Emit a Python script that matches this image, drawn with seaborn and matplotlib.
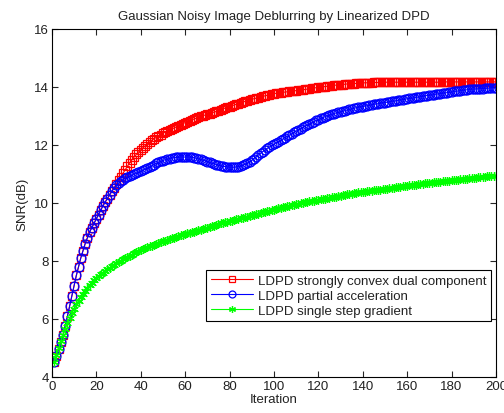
import matplotlib
matplotlib.use("Agg")
import matplotlib.pyplot as plt
import seaborn as sns
import numpy as np
import pandas as pd

# one value per iteration (1 .. 200)
iteration = np.arange(1, 201)

snr_strongly_convex = [
    4.5, 4.72, 4.95, 5.2, 5.45, 5.77, 6.1, 6.45, 6.8, 7.15,
    7.5, 7.8, 8.1, 8.35, 8.6, 8.8, 9.0, 9.15, 9.3, 9.45,
    9.6, 9.75, 9.9, 10.03, 10.15, 10.28, 10.4, 10.53, 10.65, 10.78,
    10.9, 11.02, 11.14, 11.26, 11.38, 11.48, 11.58, 11.67, 11.75, 11.83,
    11.9, 11.97, 12.04, 12.1, 12.16, 12.21, 12.26, 12.31, 12.35, 12.4,
    12.44, 12.48, 12.51, 12.55, 12.58, 12.62, 12.66, 12.7, 12.73, 12.77,
    12.8, 12.83, 12.86, 12.89, 12.92, 12.95, 12.98, 13.0, 13.03, 13.05,
    13.08, 13.1, 13.13, 13.15, 13.18, 13.21, 13.24, 13.27, 13.3, 13.32,
    13.35, 13.37, 13.4, 13.42, 13.45, 13.47, 13.5, 13.52, 13.55, 13.57,
    13.59, 13.61, 13.63, 13.65, 13.67, 13.69, 13.71, 13.73, 13.75, 13.76,
    13.78, 13.79, 13.8, 13.81, 13.82, 13.83, 13.84, 13.85, 13.86, 13.87,
    13.88, 13.89, 13.9, 13.91, 13.92, 13.93, 13.95, 13.96, 13.97, 13.98,
    13.99, 14.0, 14.01, 14.02, 14.03, 14.04, 14.05, 14.06, 14.07, 14.07,
    14.08, 14.09, 14.1, 14.1, 14.11, 14.11, 14.12, 14.12, 14.13, 14.13,
    14.14, 14.14, 14.14, 14.14, 14.15, 14.15, 14.15, 14.15, 14.15, 14.16,
    14.16, 14.16, 14.16, 14.16, 14.16, 14.16, 14.16, 14.16, 14.16, 14.16,
    14.16, 14.16, 14.16, 14.16, 14.16, 14.16, 14.16, 14.16, 14.16, 14.16,
    14.16, 14.16, 14.16, 14.16, 14.17, 14.17, 14.17, 14.17, 14.17, 14.17,
    14.17, 14.17, 14.17, 14.17, 14.17, 14.17, 14.17, 14.17, 14.17, 14.17,
    14.17, 14.17, 14.17, 14.17, 14.17, 14.17, 14.17, 14.17, 14.17, 14.17,
]

snr_partial_accel = [
    4.5, 4.72, 4.95, 5.2, 5.45, 5.77, 6.1, 6.45, 6.8, 7.15,
    7.5, 7.8, 8.1, 8.35, 8.6, 8.8, 9.0, 9.15, 9.3, 9.45,
    9.6, 9.75, 9.9, 10.03, 10.15, 10.28, 10.4, 10.5, 10.6, 10.68,
    10.75, 10.8, 10.85, 10.89, 10.92, 10.95, 10.98, 11.02, 11.05, 11.09,
    11.12, 11.16, 11.2, 11.24, 11.28, 11.32, 11.36, 11.4, 11.43, 11.46,
    11.49, 11.51, 11.53, 11.55, 11.56, 11.57, 11.57, 11.58, 11.58, 11.58,
    11.58, 11.58, 11.57, 11.56, 11.54, 11.52, 11.5, 11.48, 11.45, 11.42,
    11.4, 11.37, 11.35, 11.32, 11.3, 11.28, 11.26, 11.25, 11.24, 11.23,
    11.23, 11.23, 11.24, 11.25, 11.27, 11.3, 11.33, 11.37, 11.42, 11.47,
    11.53, 11.59, 11.65, 11.71, 11.77, 11.82, 11.88, 11.93, 11.98, 12.02,
    12.07, 12.11, 12.16, 12.2, 12.25, 12.29, 12.34, 12.38, 12.43, 12.47,
    12.52, 12.56, 12.6, 12.64, 12.68, 12.72, 12.76, 12.8, 12.84, 12.87,
    12.91, 12.94, 12.97, 13.0, 13.03, 13.05, 13.08, 13.1, 13.12, 13.14,
    13.16, 13.18, 13.2, 13.22, 13.24, 13.26, 13.28, 13.3, 13.31, 13.32,
    13.34, 13.35, 13.37, 13.38, 13.4, 13.41, 13.42, 13.44, 13.45, 13.46,
    13.47, 13.49, 13.5, 13.51, 13.52, 13.54, 13.55, 13.56, 13.57, 13.59,
    13.6, 13.61, 13.62, 13.64, 13.65, 13.66, 13.67, 13.69, 13.7, 13.71,
    13.72, 13.73, 13.75, 13.76, 13.77, 13.78, 13.79, 13.8, 13.81, 13.82,
    13.84, 13.85, 13.86, 13.87, 13.88, 13.89, 13.9, 13.91, 13.92, 13.92,
    13.93, 13.93, 13.94, 13.94, 13.95, 13.95, 13.96, 13.96, 13.96, 13.96,
]

snr_single_step = [
    4.5, 4.75, 5.0, 5.23, 5.45, 5.65, 5.85, 6.03, 6.2, 6.35,
    6.5, 6.63, 6.75, 6.87, 6.98, 7.08, 7.17, 7.25, 7.33, 7.4,
    7.47, 7.54, 7.6, 7.66, 7.72, 7.77, 7.82, 7.87, 7.92, 7.97,
    8.01, 8.06, 8.1, 8.14, 8.18, 8.22, 8.26, 8.3, 8.33, 8.37,
    8.4, 8.44, 8.47, 8.5, 8.53, 8.56, 8.59, 8.62, 8.65, 8.68,
    8.7, 8.73, 8.75, 8.78, 8.8, 8.83, 8.85, 8.88, 8.9, 8.93,
    8.95, 8.97, 8.99, 9.01, 9.03, 9.06, 9.08, 9.1, 9.12, 9.15,
    9.17, 9.2, 9.22, 9.24, 9.26, 9.29, 9.31, 9.33, 9.35, 9.37,
    9.39, 9.41, 9.43, 9.45, 9.47, 9.49, 9.51, 9.53, 9.55, 9.57,
    9.59, 9.61, 9.63, 9.65, 9.67, 9.69, 9.71, 9.73, 9.75, 9.77,
    9.79, 9.81, 9.83, 9.85, 9.86, 9.88, 9.9, 9.92, 9.94, 9.96,
    9.97, 9.99, 10.0, 10.02, 10.03, 10.05, 10.06, 10.08, 10.09, 10.11,
    10.12, 10.13, 10.14, 10.16, 10.17, 10.19, 10.2, 10.22, 10.23, 10.25,
    10.26, 10.28, 10.29, 10.3, 10.31, 10.33, 10.34, 10.36, 10.37, 10.38,
    10.39, 10.4, 10.41, 10.42, 10.43, 10.44, 10.45, 10.46, 10.47, 10.48,
    10.49, 10.5, 10.51, 10.53, 10.54, 10.55, 10.56, 10.57, 10.58, 10.59,
    10.6, 10.61, 10.62, 10.63, 10.64, 10.65, 10.66, 10.67, 10.68, 10.69,
    10.7, 10.71, 10.72, 10.73, 10.73, 10.74, 10.75, 10.76, 10.77, 10.78,
    10.79, 10.8, 10.8, 10.81, 10.82, 10.83, 10.84, 10.85, 10.85, 10.86,
    10.87, 10.88, 10.88, 10.89, 10.9, 10.91, 10.91, 10.92, 10.93, 10.94,
]

labels = ['LDPD strongly convex dual component',
          'LDPD partial acceleration',
          'LDPD single step gradient']

sns.set_style('white')
plt.rcParams['font.family'] = ['Liberation Sans', 'DejaVu Sans']
plt.rcParams['text.color'] = '#222222'

fig = plt.figure(figsize=(5.04, 4.14), dpi=100)
ax = fig.add_axes([0.103, 0.087, 0.881, 0.841])

sns.lineplot(x=iteration, y=snr_strongly_convex, ax=ax, color='red', lw=0.8,
             marker='s', markersize=6.2, markerfacecolor='none',
             markeredgecolor='red', markeredgewidth=0.9, label=labels[0])
sns.lineplot(x=iteration, y=snr_partial_accel, ax=ax, color='blue', lw=0.8,
             marker='o', markersize=6.4, markerfacecolor='none',
             markeredgecolor='blue', markeredgewidth=0.9, label=labels[1])
sns.lineplot(x=iteration, y=snr_single_step, ax=ax, color='#00ff00', lw=0.8,
             marker=(6, 2, 0), markersize=6.2,
             markeredgecolor='#00ff00', markeredgewidth=0.9, label=labels[2])

ax.set_xlim(0, 200)
ax.set_ylim(4, 16)
ax.set_xticks(range(0, 201, 20))
ax.set_yticks(range(4, 17, 2))
ax.tick_params(direction='in', length=4, width=0.8, labelsize=9.5,
               labelcolor='#222222', top=True, right=True, bottom=True, left=True,
               pad=2)
for s in ax.spines.values():
    s.set_color('black')
    s.set_linewidth(0.8)

ax.set_title('Gaussian Noisy Image Deblurring by Linearized DPD', fontsize=9.5,
             color='#222222', pad=7)
ax.set_xlabel('Iteration', fontsize=9.5, color='#222222', labelpad=1)
ax.set_ylabel('SNR(dB)', fontsize=9.5, color='#222222', labelpad=4)

leg = ax.legend(loc='lower right', bbox_to_anchor=(0.99, 0.16), fontsize=9.5,
                frameon=True, fancybox=False, edgecolor='black', framealpha=1,
                handlelength=3.2, borderpad=0.35, labelspacing=0.2,
                handletextpad=0.4, borderaxespad=0)
leg.get_frame().set_linewidth(0.8)
for h in leg.legend_handles:
    h.set_markersize(5)

fig.savefig('out.png', dpi=100)
